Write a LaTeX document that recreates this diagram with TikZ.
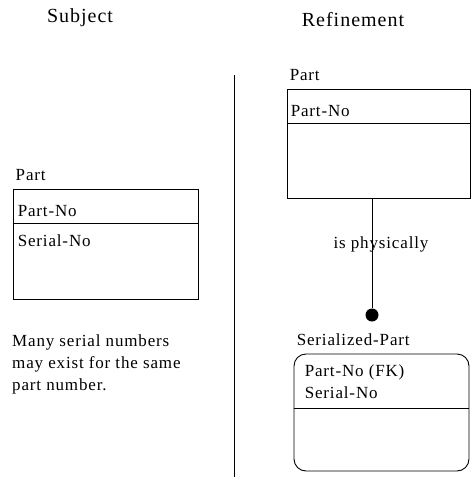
\documentclass[tikz,border=0pt]{standalone}
\usepackage{fontspec}
\setmainfont{Liberation Serif}[LetterSpace=5]
\usetikzlibrary{positioning}
\newcommand\bodyfont{\fontsize{17}{22}\selectfont}
\newcommand\headfont{\fontsize{20}{24}\selectfont}
\tikzset{
  ebox/.style ={draw,line width=0.9pt,inner sep=0pt},
  dbox/.style ={ebox,rounded corners=12pt},
  ename/.style={font=\bodyfont,inner sep=0pt},
  attr/.style ={font=\bodyfont,inner sep=0pt,anchor=base west,align=left},
  lbl/.style  ={font=\bodyfont,inner sep=0pt},
  hd/.style   ={font=\headfont,inner sep=0pt},
  dot/.style  ={circle,fill=black,inner sep=0pt,minimum size=13pt},
  ln/.style   ={line width=0.9pt},
}
\begin{document}
\begin{tikzpicture}[x=1pt,y=-1pt]
\useasboundingbox (0,0) rectangle (471,477);

% column titles
\node[hd] (subj) at (80,18) {Subject};
\node[hd] (refi) at (353,20) {Refinement};
\draw[ln] (234,75) coordinate (sepT) -- (234,477) coordinate (sepB);

% subject side
\node[ebox,minimum width=185pt,minimum height=110pt] (lpart) at (105.5,244) {};
\node[ename,above right=8pt and 3pt of lpart.north west,anchor=south west] (lpartN) {Part};
\draw[ln] ([yshift=-35pt]lpart.north west) -- ([yshift=-35pt]lpart.north east);
\node[attr] (lkey) at ([xshift=5pt,yshift=-27.5pt]lpart.north west) {Part-No};
\node[attr] (lser) at ([xshift=5pt,yshift=-57.5pt]lpart.north west) {Serial-No};
% multi-line nodes: base is the last line
\node[attr] (note) at (12,390.5) {Many serial numbers\\may exist for the same\\part number.};

% refinement side
\node[ebox,minimum width=183pt,minimum height=109pt] (rpart) at (378.5,143.5) {};
\node[ename,above right=8pt and 3pt of rpart.north west,anchor=south west] (rpartN) {Part};
\draw[ln] ([yshift=-35pt]rpart.north west) -- ([yshift=-35pt]rpart.north east);
\node[attr] (rkey) at ([xshift=4pt,yshift=-27.5pt]rpart.north west) {Part-No};

\node[dbox,minimum width=175pt,minimum height=117pt] (spart) at (381.5,412.5) {};
\node[ename,above right=8pt and 3pt of spart.north west,anchor=south west] (spartN) {Serialized-Part};
\draw[ln] ([yshift=-55pt]spart.north west) -- ([yshift=-55pt]spart.north east);
\node[attr] (skey) at ([xshift=11pt,yshift=-44.5pt]spart.north west) {Part-No (FK)\\Serial-No};

\node[dot] (pdot) at (372,315) {};
\draw[ln] (pdot |- rpart.south) -- (pdot)
  node[lbl,pos=0.42,xshift=9pt] {is physically};
\end{tikzpicture}
\end{document}
